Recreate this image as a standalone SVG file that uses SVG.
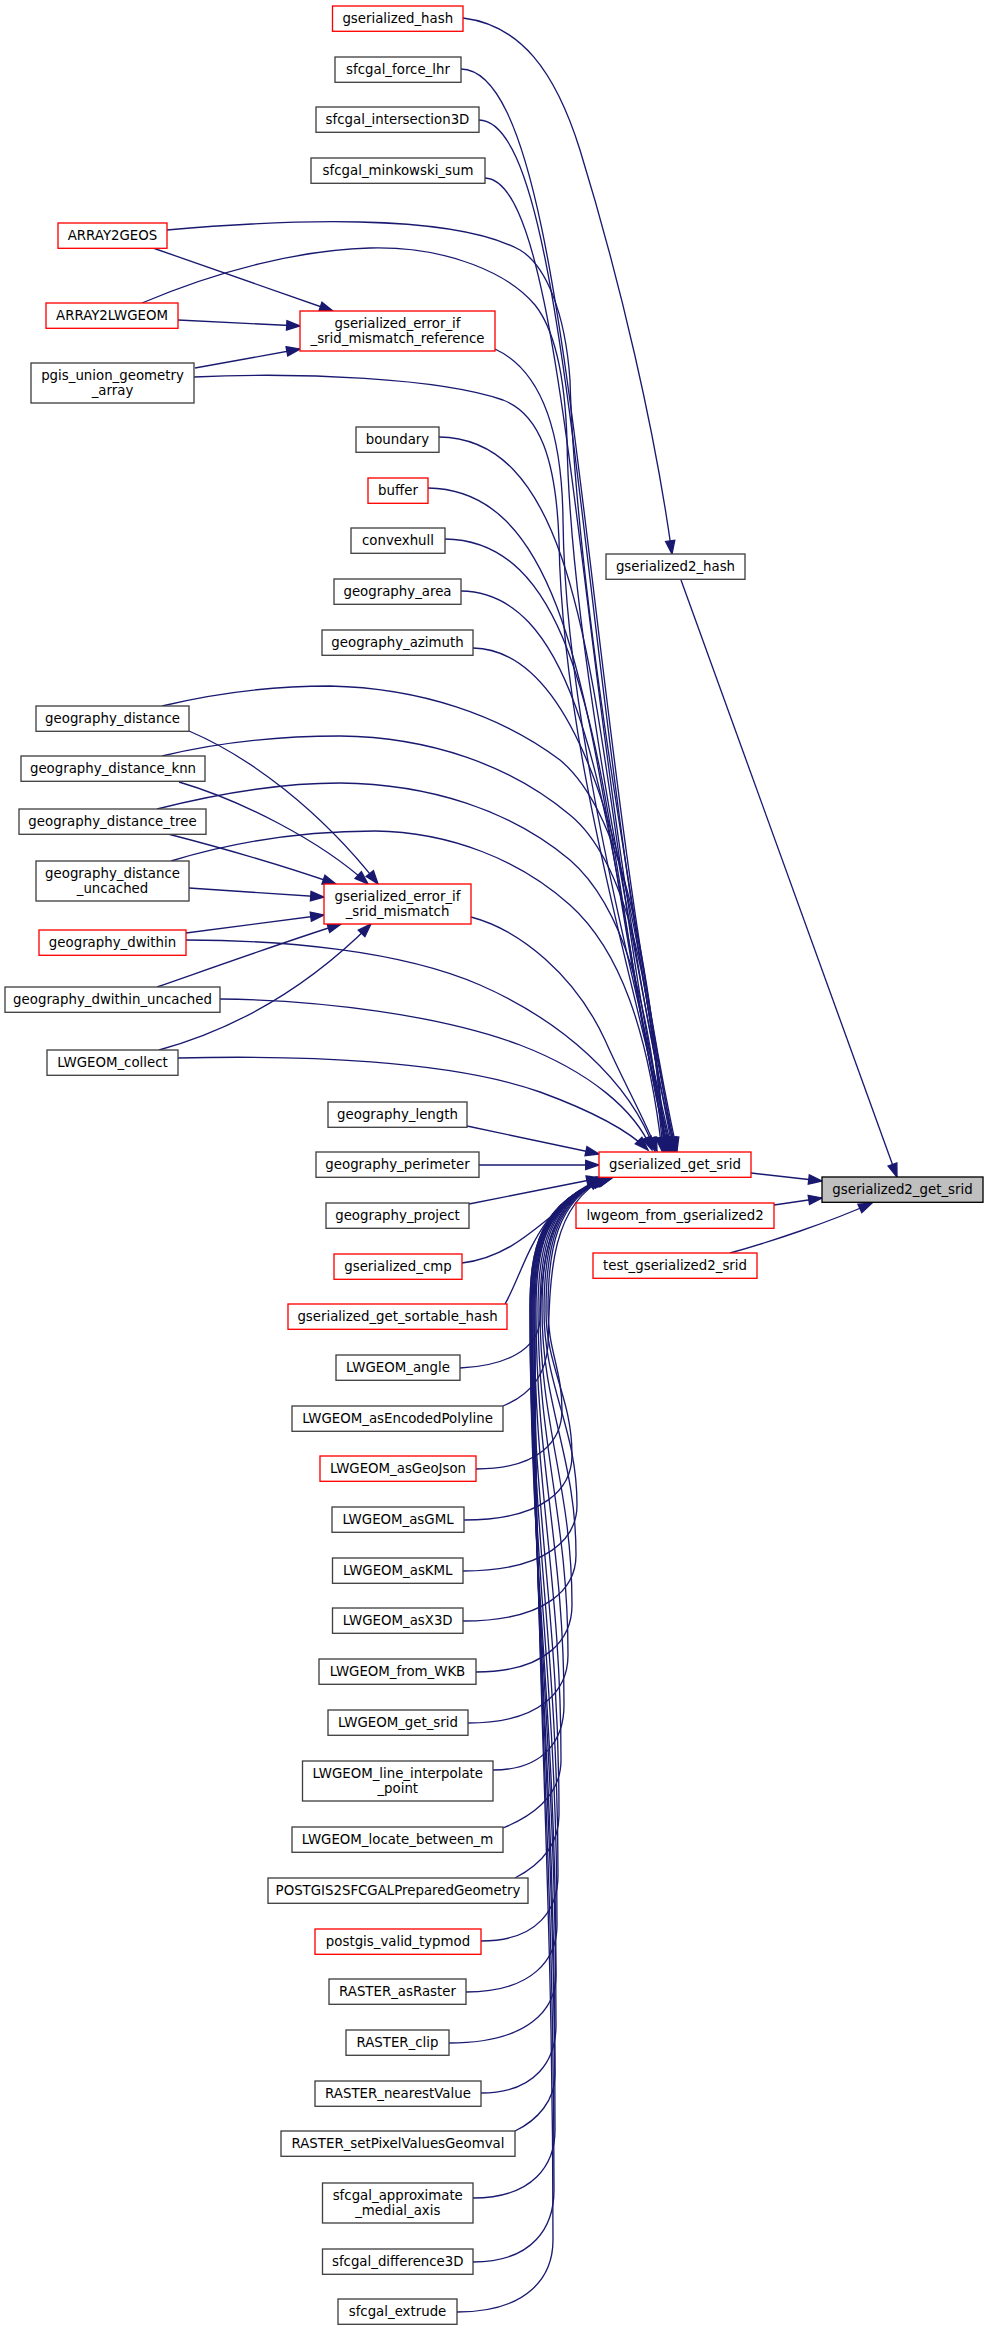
<svg xmlns="http://www.w3.org/2000/svg" width="988" height="2331" viewBox="0 0 988 2331">
<style>
.n rect{fill:#ffffff;stroke:#404040;stroke-width:1.33}
.n.r rect{stroke:#ff0000}
.n.root rect{fill:#bfbfbf;stroke:#000000}
text{font-family:"DejaVu Sans","Liberation Sans",sans-serif;font-size:13.33px;text-anchor:middle;fill:#000000}
.e path{fill:none;stroke:#191970;stroke-width:1.33;marker-end:url(#a)}
</style>
<defs>
<marker id="a" markerUnits="userSpaceOnUse" markerWidth="14" markerHeight="10" refX="13.3" refY="4.67" orient="auto" overflow="visible">
<path d="M0,0 L13.3,4.67 L0,9.33 z" fill="#191970" stroke="#191970" stroke-width="1.33"/>
</marker>
</defs>
<rect x="0" y="0" width="988" height="2331" fill="#ffffff"/>
<g id="edges" class="e">
<path d="M463,18 C520,25 555,70 580,150 C620,280 655,430 672,554"/>
<path d="M681,580 L897,1177"/>
<path d="M751,1173 L822,1181"/>
<path d="M774,1205 L822,1198"/>
<path d="M730,1253 C770,1242 830,1222 872,1203"/>
<path d="M461,69 C575,71 580,700 677,1151"/>
<path d="M479,120 C575,122 580,720 676,1151"/>
<path d="M485,178 C572,181 578,740 675,1151"/>
<path d="M167,230 C280,220 450,212 520,250 C545,265 565,310 570,380 C576,600 640,950 674,1151"/>
<path d="M142,303 C220,270 300,250 370,248 C450,246 510,275 535,305 C555,330 565,380 567,440 C570,640 635,950 673,1151"/>
<path d="M495,349 C540,370 562,430 563,520 C565,720 630,960 672,1151"/>
<path d="M194,377 C300,372 440,378 503,400 C540,414 556,460 559,540 C562,740 628,960 671,1151"/>
<path d="M439,437 C610,439 590,800 670,1151"/>
<path d="M428,488 C600,490 592,830 669,1151"/>
<path d="M445,539 C610,541 600,860 668,1151"/>
<path d="M461,591 C600,593 610,880 667,1151"/>
<path d="M473,648 C590,650 640,900 666,1151"/>
<path d="M162,706 C220,692 280,686 330,686 C420,688 500,715 560,760 C620,810 650,950 665,1151"/>
<path d="M162,756 C220,742 280,736 340,736 C430,737 510,765 570,815 C625,860 652,980 664,1151"/>
<path d="M157,809 C220,793 280,783 340,783 C430,784 510,810 570,860 C622,905 650,1000 663,1151"/>
<path d="M171,861 C240,840 310,831 375,831 C450,832 520,860 570,905 C620,950 648,1030 662,1151"/>
<path d="M471,917 C520,930 575,975 605,1040 C625,1085 645,1120 657,1151"/>
<path d="M186,940 C280,940 400,950 480,985 C560,1020 630,1080 655,1151"/>
<path d="M220,999 C320,1000 440,1015 520,1045 C590,1072 635,1110 652,1150"/>
<path d="M178,1058 C300,1055 450,1060 540,1092 C600,1114 630,1132 648,1150"/>
<path d="M467,1126 L599,1154"/>
<path d="M479,1165 L599,1165"/>
<path d="M469,1204 L600,1178"/>
<path d="M462,1263 C520,1256 548,1212 602,1178"/>
<path d="M505,1304 C525,1270 535,1205 603,1178"/>
<path d="M460,1368 C505,1366 538,1350 540,1320 C542,1260 548,1200 604,1178"/>
<path d="M503,1406 C530,1395 546,1375 548,1345 C550,1270 552,1205 605,1178"/>
<path d="M476,1469 C540,1469 562,1440 562,1410 C562,1370 548,1350 548,1310 C548,1250 556,1200 606,1178"/>
<path d="M464,1520 C545,1520 572,1488 572,1455 C572,1397 546,1368 546,1310 C546,1250 554,1200 606,1178"/>
<path d="M463,1571 C548,1571 577,1538 577,1505 C577,1427 544,1388 544,1310 C544,1250 552,1200 607,1178"/>
<path d="M463,1621 C548,1621 576,1588 576,1555 C576,1457 542,1408 542,1310 C542,1250 550,1200 607,1178"/>
<path d="M476,1672 C548,1672 572,1638 572,1605 C572,1487 540,1428 540,1310 C540,1250 548,1200 607,1178"/>
<path d="M468,1723 C543,1723 568,1689 568,1655 C568,1517 538,1448 538,1310 C538,1250 546,1200 608,1178"/>
<path d="M493,1770 C546,1770 564,1738 564,1705 C564,1547 536,1468 536,1310 C536,1250 544,1200 608,1178"/>
<path d="M503,1828 C535,1815 561,1795 561,1760 C561,1580 534,1490 534,1310 C534,1250 542,1200 608,1178"/>
<path d="M515,1878 C540,1865 559,1845 559,1815 C559,1613 532,1512 532,1310 C532,1250 540,1200 609,1178"/>
<path d="M481,1941 C539,1941 558,1908 558,1875 C558,1649 531,1536 531,1310 C531,1250 539,1200 609,1178"/>
<path d="M466,1992 C534,1992 557,1958 557,1925 C557,1679 530,1556 530,1310 C530,1250 538,1200 610,1178"/>
<path d="M449,2043 C529,2043 556,2009 556,1975 C556,1709 530,1576 530,1310 C530,1250 538,1200 610,1178"/>
<path d="M481,2093 C537,2093 556,2059 556,2025 C556,1739 531,1596 531,1310 C531,1250 539,1200 610,1178"/>
<path d="M515,2131 C538,2120 555,2100 555,2075 C555,1769 532,1616 532,1310 C532,1250 540,1200 611,1178"/>
<path d="M473,2198 C534,2198 555,2164 555,2130 C555,1802 533,1638 533,1310 C533,1250 541,1200 611,1178"/>
<path d="M473,2262 C534,2262 554,2226 554,2190 C554,1838 534,1662 534,1310 C534,1250 542,1200 611,1178"/>
<path d="M457,2312 C529,2312 553,2276 553,2240 C553,1868 535,1682 535,1310 C535,1250 543,1200 612,1178"/>
<path d="M153,248 L333,311"/>
<path d="M178,320 L300,326"/>
<path d="M195,368 L300,349"/>
<path d="M189,731 C250,757 320,810 378,884"/>
<path d="M179,782 C240,800 320,840 368,884"/>
<path d="M168,834 C230,850 290,868 336,884"/>
<path d="M189,888 L324,897"/>
<path d="M186,933 L324,915"/>
<path d="M157,987 C220,965 290,940 341,924"/>
<path d="M159,1050 C250,1025 320,975 371,924"/>
</g>
<g id="gserialized_hash" class="n r"><rect x="332.5" y="6" width="130.5" height="25.3"/><text x="397.75" y="23.4">gserialized_hash</text></g>
<g id="sfcgal_force_lhr" class="n"><rect x="335" y="57" width="126" height="25.3"/><text x="398" y="74.4">sfcgal_force_lhr</text></g>
<g id="sfcgal_intersection3D" class="n"><rect x="316" y="107" width="163" height="25.3"/><text x="397.5" y="124.4">sfcgal_intersection3D</text></g>
<g id="sfcgal_minkowski_sum" class="n"><rect x="311" y="158" width="174" height="25.3"/><text x="398" y="175.4">sfcgal_minkowski_sum</text></g>
<g id="ARRAY2GEOS" class="n r"><rect x="58" y="223" width="109" height="25.3"/><text x="112.5" y="240.4">ARRAY2GEOS</text></g>
<g id="ARRAY2LWGEOM" class="n r"><rect x="46" y="303" width="132" height="25.3"/><text x="112" y="320.4">ARRAY2LWGEOM</text></g>
<g id="gserialized_error_if_srid_mismatch_reference" class="n r"><rect x="300" y="311" width="195" height="40"/><text x="397.5" y="328.3">gserialized_error_if</text><text x="397.5" y="342.8">_srid_mismatch_reference</text></g>
<g id="pgis_union_geometry_array" class="n"><rect x="31" y="363" width="163" height="40"/><text x="112.5" y="380.3">pgis_union_geometry</text><text x="112.5" y="394.8">_array</text></g>
<g id="boundary" class="n"><rect x="356" y="427" width="83" height="25.3"/><text x="397.5" y="444.4">boundary</text></g>
<g id="buffer" class="n r"><rect x="368" y="478" width="60" height="25.3"/><text x="398" y="495.4">buffer</text></g>
<g id="convexhull" class="n"><rect x="351" y="528" width="94" height="25.3"/><text x="398" y="545.4">convexhull</text></g>
<g id="geography_area" class="n"><rect x="334" y="579" width="127" height="25.3"/><text x="397.5" y="596.4">geography_area</text></g>
<g id="geography_azimuth" class="n"><rect x="322" y="630" width="151" height="25.3"/><text x="397.5" y="647.4">geography_azimuth</text></g>
<g id="geography_distance" class="n"><rect x="36" y="706" width="153" height="25.3"/><text x="112.5" y="723.4">geography_distance</text></g>
<g id="geography_distance_knn" class="n"><rect x="21" y="756" width="184" height="25.3"/><text x="113" y="773.4">geography_distance_knn</text></g>
<g id="geography_distance_tree" class="n"><rect x="19" y="809" width="187" height="25.3"/><text x="112.5" y="826.4">geography_distance_tree</text></g>
<g id="geography_distance_uncached" class="n"><rect x="36" y="861" width="153" height="40"/><text x="112.5" y="878.3">geography_distance</text><text x="112.5" y="892.8">_uncached</text></g>
<g id="gserialized_error_if_srid_mismatch" class="n r"><rect x="324" y="884" width="147" height="40"/><text x="397.5" y="901.3">gserialized_error_if</text><text x="397.5" y="915.8">_srid_mismatch</text></g>
<g id="geography_dwithin" class="n r"><rect x="39" y="930" width="147" height="25.3"/><text x="112.5" y="947.4">geography_dwithin</text></g>
<g id="geography_dwithin_uncached" class="n"><rect x="5" y="987" width="215" height="25.3"/><text x="112.5" y="1004.4">geography_dwithin_uncached</text></g>
<g id="LWGEOM_collect" class="n"><rect x="47" y="1050" width="131" height="25.3"/><text x="112.5" y="1067.4">LWGEOM_collect</text></g>
<g id="geography_length" class="n"><rect x="328" y="1102" width="139" height="25.3"/><text x="397.5" y="1119.4">geography_length</text></g>
<g id="geography_perimeter" class="n"><rect x="316" y="1152" width="163" height="25.3"/><text x="397.5" y="1169.4">geography_perimeter</text></g>
<g id="geography_project" class="n"><rect x="326" y="1203" width="143" height="25.3"/><text x="397.5" y="1220.4">geography_project</text></g>
<g id="gserialized_cmp" class="n r"><rect x="334" y="1254" width="128" height="25.3"/><text x="398" y="1271.4">gserialized_cmp</text></g>
<g id="gserialized_get_sortable_hash" class="n r"><rect x="288" y="1304" width="219" height="25.3"/><text x="397.5" y="1321.4">gserialized_get_sortable_hash</text></g>
<g id="LWGEOM_angle" class="n"><rect x="336" y="1355" width="124" height="25.3"/><text x="398" y="1372.4">LWGEOM_angle</text></g>
<g id="LWGEOM_asEncodedPolyline" class="n"><rect x="292" y="1406" width="211" height="25.3"/><text x="397.5" y="1423.4">LWGEOM_asEncodedPolyline</text></g>
<g id="LWGEOM_asGeoJson" class="n r"><rect x="320" y="1456" width="156" height="25.3"/><text x="398" y="1473.4">LWGEOM_asGeoJson</text></g>
<g id="LWGEOM_asGML" class="n"><rect x="332" y="1507" width="132" height="25.3"/><text x="398" y="1524.4">LWGEOM_asGML</text></g>
<g id="LWGEOM_asKML" class="n"><rect x="332.5" y="1558" width="130.5" height="25.3"/><text x="397.75" y="1575.4">LWGEOM_asKML</text></g>
<g id="LWGEOM_asX3D" class="n"><rect x="332.5" y="1608" width="130.5" height="25.3"/><text x="397.75" y="1625.4">LWGEOM_asX3D</text></g>
<g id="LWGEOM_from_WKB" class="n"><rect x="319" y="1659" width="157" height="25.3"/><text x="397.5" y="1676.4">LWGEOM_from_WKB</text></g>
<g id="LWGEOM_get_srid" class="n"><rect x="328" y="1710" width="140" height="25.3"/><text x="398" y="1727.4">LWGEOM_get_srid</text></g>
<g id="LWGEOM_line_interpolate_point" class="n"><rect x="302.5" y="1761" width="190.5" height="40"/><text x="397.75" y="1778.3">LWGEOM_line_interpolate</text><text x="397.75" y="1792.8">_point</text></g>
<g id="LWGEOM_locate_between_m" class="n"><rect x="292" y="1827" width="211" height="25.3"/><text x="397.5" y="1844.4">LWGEOM_locate_between_m</text></g>
<g id="POSTGIS2SFCGALPreparedGeometry" class="n"><rect x="268" y="1878" width="260" height="25.3"/><text x="398" y="1895.4">POSTGIS2SFCGALPreparedGeometry</text></g>
<g id="postgis_valid_typmod" class="n r"><rect x="315" y="1929" width="166" height="25.3"/><text x="398" y="1946.4">postgis_valid_typmod</text></g>
<g id="RASTER_asRaster" class="n"><rect x="329" y="1979" width="137" height="25.3"/><text x="397.5" y="1996.4">RASTER_asRaster</text></g>
<g id="RASTER_clip" class="n"><rect x="346" y="2030" width="103" height="25.3"/><text x="397.5" y="2047.4">RASTER_clip</text></g>
<g id="RASTER_nearestValue" class="n"><rect x="315" y="2081" width="166" height="25.3"/><text x="398" y="2098.4">RASTER_nearestValue</text></g>
<g id="RASTER_setPixelValuesGeomval" class="n"><rect x="281" y="2131" width="234" height="25.3"/><text x="398" y="2148.4">RASTER_setPixelValuesGeomval</text></g>
<g id="sfcgal_approximate_medial_axis" class="n"><rect x="322.5" y="2183" width="150.5" height="40"/><text x="397.75" y="2200.3">sfcgal_approximate</text><text x="397.75" y="2214.8">_medial_axis</text></g>
<g id="sfcgal_difference3D" class="n"><rect x="322.5" y="2249" width="150.5" height="25.3"/><text x="397.75" y="2266.4">sfcgal_difference3D</text></g>
<g id="sfcgal_extrude" class="n"><rect x="338" y="2299" width="119" height="25.3"/><text x="397.5" y="2316.4">sfcgal_extrude</text></g>
<g id="gserialized2_hash" class="n"><rect x="606" y="554" width="139" height="25.3"/><text x="675.5" y="571.4">gserialized2_hash</text></g>
<g id="gserialized_get_srid" class="n r"><rect x="599" y="1152" width="152" height="25.3"/><text x="675" y="1169.4">gserialized_get_srid</text></g>
<g id="lwgeom_from_gserialized2" class="n r"><rect x="576" y="1203" width="198" height="25.3"/><text x="675" y="1220.4">lwgeom_from_gserialized2</text></g>
<g id="test_gserialized2_srid" class="n r"><rect x="593" y="1253" width="164" height="25.3"/><text x="675" y="1270.4">test_gserialized2_srid</text></g>
<g id="gserialized2_get_srid" class="n root"><rect x="822" y="1177" width="161" height="25.3"/><text x="902.5" y="1194.4">gserialized2_get_srid</text></g>
</svg>
